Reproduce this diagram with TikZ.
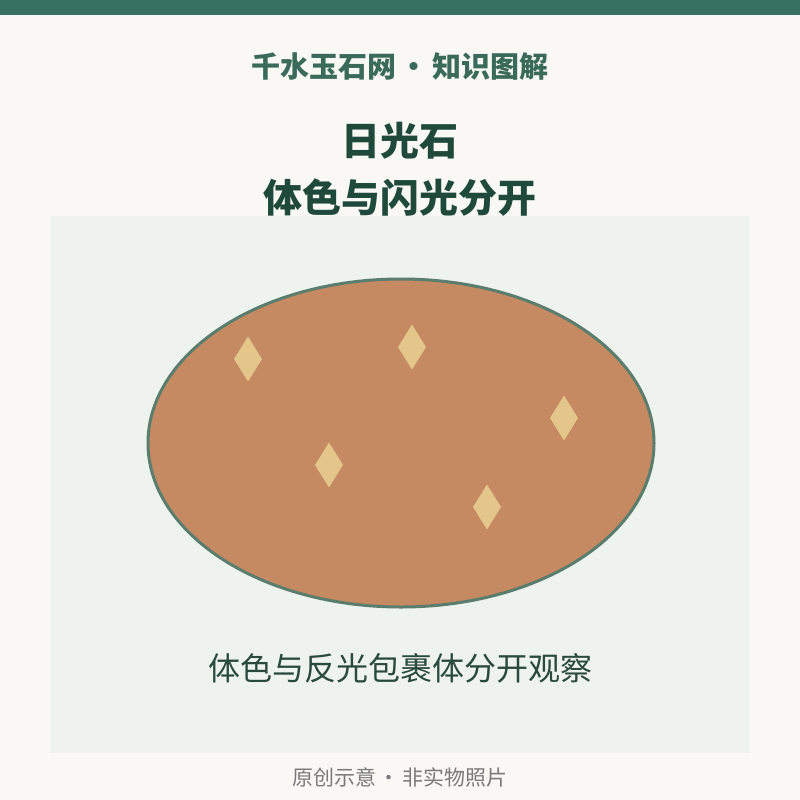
\documentclass[tikz,border=0pt]{standalone}
\usepackage{fontspec}
\newfontfamily\cjk{Noto Sans CJK SC}
\definecolor{pageBg}{HTML}{F9F8F4}
\definecolor{barGreen}{HTML}{36705F}
\definecolor{panelBg}{HTML}{EFF3EE}
\definecolor{stoneFill}{HTML}{C68A62}
\definecolor{stoneEdge}{HTML}{5A7D6E}
\definecolor{spark}{HTML}{E4C58A}
\definecolor{headGreen}{HTML}{3A6B5A}
\definecolor{titleGreen}{HTML}{1F4A3B}
\definecolor{capGreen}{HTML}{2A4A3E}
\tikzset{
  headtext/.style={font=\cjk\bfseries\fontsize{29}{32}\selectfont, text=headGreen},
  titletext/.style={font=\cjk\bfseries\fontsize{39}{44}\selectfont, text=titleGreen},
  captext/.style={font=\cjk\fontsize{32}{36}\selectfont, text=capGreen},
  foottext/.style={font=\cjk\fontsize{21}{24}\selectfont, text=black!52}
}
\begin{document}
\begin{tikzpicture}[x=1pt,y=-1pt]
  \fill[pageBg] (0,0) rectangle (800,800);
  \useasboundingbox (0,0) rectangle (800,800);
  \fill[barGreen] (0,0) rectangle (800,15);
  \fill[panelBg] (50,216) rectangle (750,753);

  \node[headtext] (head) at (400,67) {千水玉石网\hspace{4pt}•\hspace{4pt}知识图解};
  \node[titletext] (title1) at (400,141) {日光石};
  \node[titletext] (title2) at (400,198) {体色与闪光分开};

  \coordinate (S) at (401,443);
  \draw[stoneEdge, line width=3, fill=stoneFill] (S) ellipse [x radius=253, y radius=164];

  \foreach \x/\y in {248/359, 412/347, 564/418, 329/465, 487/507}
    \fill[spark] (\x,\y) +(0,-22.5) -- +(14,0) -- +(0,22.5) -- +(-14,0) -- cycle;

  \node[captext] (cap) at (400,668) {体色与反光包裹体分开观察};
  \node[foottext] (foot) at (400,777) {原创示意\hspace{3pt}·\hspace{3pt}非实物照片};
\end{tikzpicture}
\end{document}
